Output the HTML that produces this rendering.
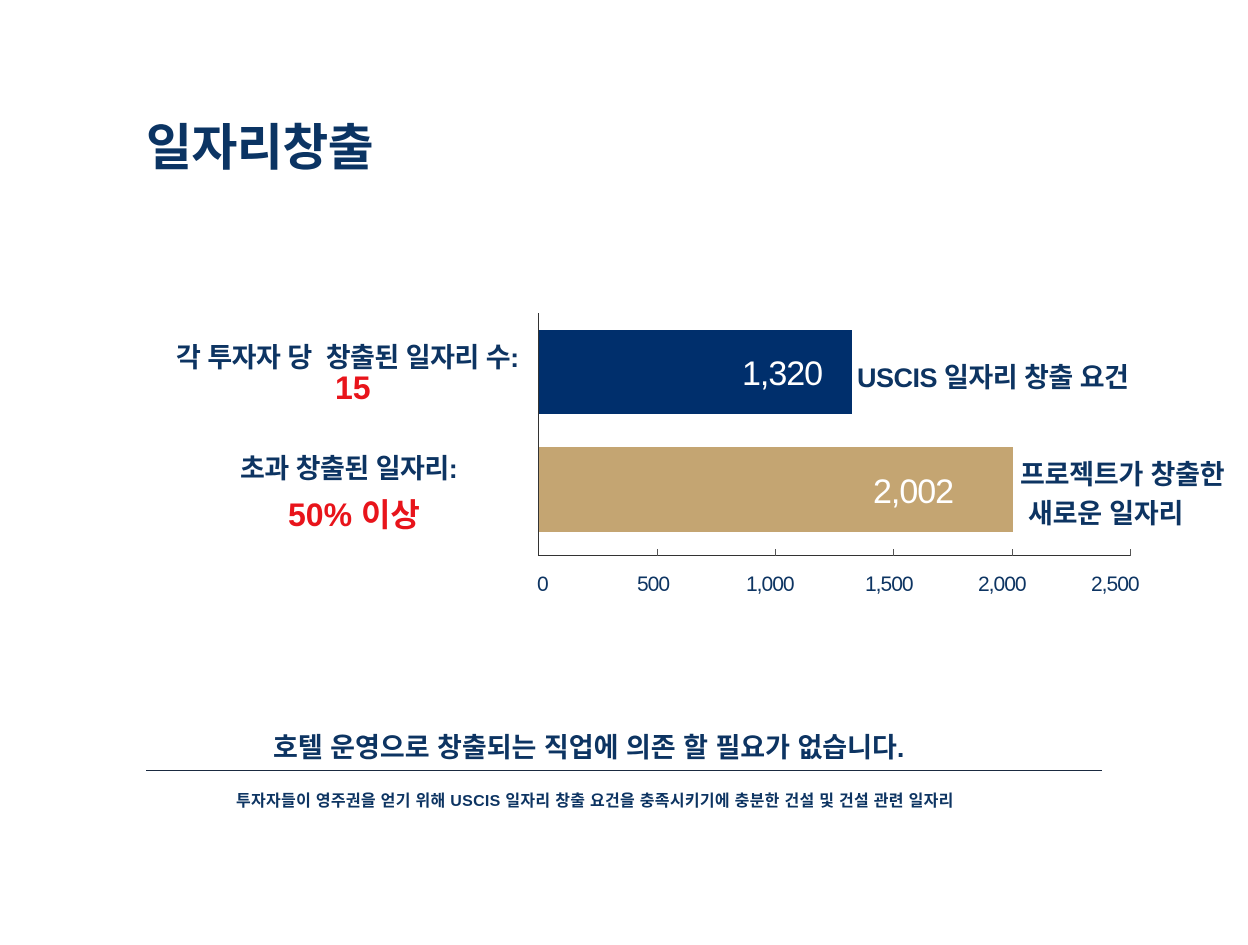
<!DOCTYPE html>
<html><head><meta charset="utf-8"><style>
body{margin:0;width:1248px;height:945px;background:#fff;position:relative;overflow:hidden;font-family:"Liberation Sans","Noto Sans CJK KR",sans-serif;color:#0d3462}
.a{position:absolute;white-space:nowrap}
.b{font-weight:bold}
</style></head><body>
<div class="a b" style="left:146px;top:108px;font-size:50px;letter-spacing:-0.6px;color:#0b3463">일자리창출</div>
<div class="a b" style="left:176px;top:336px;font-size:27px;letter-spacing:-0.5px">각 투자자 당&nbsp; 창출된 일자리 수:</div>
<div class="a" style="left:335px;top:370px;font-size:32px;color:#e8141b;font-weight:bold">15</div>
<div class="a b" style="left:240px;top:447px;font-size:27px;letter-spacing:-0.5px">초과 창출된 일자리:</div>
<div class="a b" style="left:288px;top:490px;font-size:32px;color:#e8141b">50% 이상</div>
<div class="a" style="left:538px;top:313px;width:1px;height:243px;background:#333"></div>
<div class="a" style="left:538px;top:555px;width:593px;height:1px;background:#333"></div>
<div class="a" style="left:657px;top:549px;width:1px;height:7px;background:#555"></div>
<div class="a" style="left:775px;top:549px;width:1px;height:7px;background:#555"></div>
<div class="a" style="left:893px;top:549px;width:1px;height:7px;background:#555"></div>
<div class="a" style="left:1012px;top:549px;width:1px;height:7px;background:#555"></div>
<div class="a" style="left:1130px;top:549px;width:1px;height:7px;background:#555"></div>
<div class="a" style="left:539px;top:330px;width:313px;height:84px;background:#002f6c"></div>
<div class="a" style="left:539px;top:447px;width:474px;height:85px;background:#c4a572"></div>
<div class="a" style="left:742px;top:355px;font-size:34px;color:#fff;letter-spacing:-1px">1,320</div>
<div class="a" style="left:873px;top:473px;font-size:34px;color:#fff;letter-spacing:-1px">2,002</div>
<div class="a b" style="left:857px;top:356px;font-size:27px;letter-spacing:-0.5px">USCIS 일자리 창출 요건</div>
<div class="a b" style="left:1020px;top:453px;font-size:27px;letter-spacing:-0.2px">프로젝트가 창출한</div>
<div class="a b" style="left:1028px;top:492px;font-size:27px;letter-spacing:-0.2px">새로운 일자리</div>
<div class="a" style="top:573px;font-size:21px;letter-spacing:-1px;left:537px">0</div>
<div class="a" style="top:573px;font-size:21px;letter-spacing:-1px;left:637px">500</div>
<div class="a" style="top:573px;font-size:21px;letter-spacing:-1px;left:746px">1,000</div>
<div class="a" style="top:573px;font-size:21px;letter-spacing:-1px;left:865px">1,500</div>
<div class="a" style="top:573px;font-size:21px;letter-spacing:-1px;left:978px">2,000</div>
<div class="a" style="top:573px;font-size:21px;letter-spacing:-1px;left:1091px">2,500</div>
<div class="a b" style="left:273px;top:726px;font-size:27px;letter-spacing:0px">호텔 운영으로 창출되는 직업에 의존 할 필요가 없습니다.</div>
<div class="a" style="left:146px;top:770px;width:956px;height:1px;background:#1a2a40"></div>
<div class="a b" style="left:236px;top:787px;font-size:16px;letter-spacing:0.3px">투자자들이 영주권을 얻기 위해 USCIS 일자리 창출 요건을 충족시키기에 충분한 건설 및 건설 관련 일자리</div>
</body></html>
